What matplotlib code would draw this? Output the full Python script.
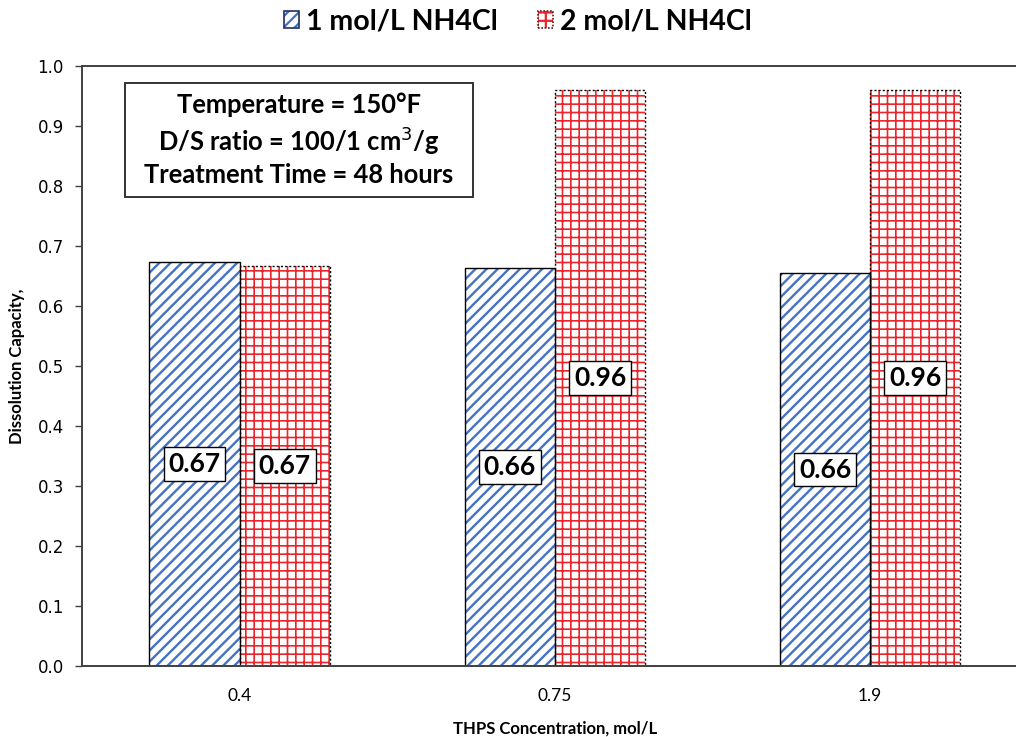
import matplotlib
matplotlib.use("Agg")
import matplotlib.pyplot as plt
from matplotlib.patches import Patch, Rectangle
from matplotlib.legend_handler import HandlerTuple
import numpy as np

# Data
concentrations = ["0.4", "0.75", "1.9"]
series_names = ["1 mol/L NH4Cl", "2 mol/L NH4Cl"]
cap_1M = [0.673, 0.663, 0.655]
cap_2M = [0.667, 0.96, 0.96]

BLUE = "#4472C4"
RED = "#E8262B"
LABEL_FONT = ["Lato", "DejaVu Sans"]
DOTTED = (0, (1.5, 1.5))

plt.rcParams["hatch.linewidth"] = 1.6

fig = plt.figure(figsize=(10.16, 7.37), dpi=100)
ax = fig.add_axes([0.0807, 0.0963, 0.931, 0.814])

x = np.arange(len(concentrations))
w = 0.286


def set_hatch_width(patches, lw):
    for p in patches:
        if hasattr(p, "set_hatch_linewidth"):
            p.set_hatch_linewidth(lw)


# Hatched fills (hatch colour taken from edgecolor), then black outlines on top
blue_fill = ax.bar(x - w / 2, cap_1M, w, color="white", edgecolor=BLUE,
                   hatch="///", linewidth=0)
red_fill = ax.bar(x + w / 2, cap_2M, w, color="white", edgecolor=RED,
                  hatch="++", linewidth=0)
set_hatch_width(blue_fill, 1.7)
set_hatch_width(red_fill, 1.2)
ax.bar(x - w / 2, cap_1M, w, color="none", edgecolor="black", linewidth=1.0)
ax.bar(x + w / 2, cap_2M, w, color="none", edgecolor="black", linewidth=1.0,
       linestyle=DOTTED)

# Value labels centred in each bar
label_box = dict(boxstyle="square,pad=0.18", fc="white", ec="black", lw=1.0)
for xi, v in zip(x - w / 2, cap_1M):
    ax.text(xi, v / 2, f"{v:.2f}", ha="center", va="center", fontsize=19,
            fontweight="bold", family=LABEL_FONT, bbox=label_box)
for xi, v in zip(x + w / 2, cap_2M):
    ax.text(xi, v / 2, f"{v:.2f}", ha="center", va="center", fontsize=19,
            fontweight="bold", family=LABEL_FONT, bbox=label_box)

ax.set_xlim(-0.5, 2.5)
ax.set_ylim(0, 1.0)
ax.set_yticks(np.arange(0, 1.01, 0.1))
ax.yaxis.set_major_formatter(matplotlib.ticker.FormatStrFormatter("%.1f"))
ax.set_xticks(x)
ax.set_xticklabels(concentrations, family=LABEL_FONT, fontsize=12.5)
ax.tick_params(axis="x", length=0, pad=16)
ax.tick_params(axis="y", length=5, width=1.0, direction="out", labelsize=12,
               pad=8, color="#404040")

for side in ["left", "top", "bottom"]:
    ax.spines[side].set_color("#404040")
    ax.spines[side].set_linewidth(1.4)
ax.spines["right"].set_visible(False)

ax.set_xlabel("THPS Concentration, mol/L", fontsize=12, fontweight="bold",
              family=LABEL_FONT, labelpad=12)
ax.set_ylabel("Dissolution Capacity,", fontsize=12, fontweight="bold",
              family=LABEL_FONT, labelpad=9)

# Conditions box
ax.add_patch(Rectangle((0.0455, 0.7817), 0.3678, 0.19, transform=ax.transAxes,
                       facecolor="white", edgecolor="#333333", linewidth=1.4,
                       zorder=4))
ax.text(0.2294, 0.877,
        "Temperature = 150°F\nD/S ratio = 100/1 cm$^{3}$/g\nTreatment Time = 48 hours",
        transform=ax.transAxes, ha="center", va="center", fontsize=18.4,
        fontweight="bold", family=LABEL_FONT, linespacing=1.3, zorder=5)

# Legend: hatched swatch with a thin outline drawn over it
blue_swatch = (Patch(facecolor="white", edgecolor=BLUE, hatch="///", lw=0),
               Patch(facecolor="none", edgecolor="#1F2F5F", lw=1.2))
red_swatch = (Patch(facecolor="white", edgecolor=RED, hatch="++", lw=0),
              Patch(facecolor="none", edgecolor="#5A1A1A", lw=1.2, linestyle=(0, (1, 1))))
fig.legend([blue_swatch, red_swatch], series_names, loc="center",
           bbox_to_anchor=(0.51, 0.971), ncol=2, frameon=False,
           prop=dict(family=LABEL_FONT, weight="bold", size=20.5),
           handler_map={tuple: HandlerTuple(ndivide=1, pad=0)},
           handlelength=0.53, handleheight=0.56, handletextpad=0.25,
           columnspacing=1.4)

fig.savefig("out.png", dpi=100)
